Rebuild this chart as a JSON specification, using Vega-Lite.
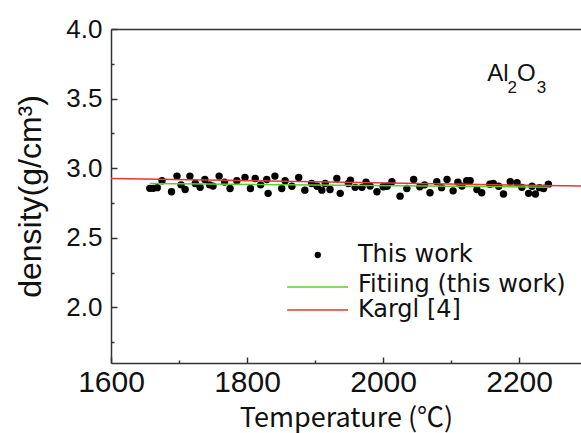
{
  "$schema": "https://vega.github.io/schema/vega-lite/v6.json",
  "width": 470,
  "height": 334,
  "autosize": {"type": "none"},
  "padding": {"left": 111, "top": 29, "right": 0, "bottom": 70},
  "background": "white",
  "config": {
    "view": {"stroke": null},
    "axis": {
      "domainColor": "#333333",
      "domainWidth": 1.5,
      "tickColor": "#333333",
      "tickWidth": 1.5,
      "labelColor": "#111111",
      "titleColor": "#111111",
      "grid": false,
      "labelFlush": false,
      "labelOverlap": false
    }
  },
  "datasets": {
    "measured": [
      {"temperature": 1657, "density": 2.855, "series": "This work"},
      {"temperature": 1662, "density": 2.855, "series": "This work"},
      {"temperature": 1668, "density": 2.86, "series": "This work"},
      {"temperature": 1675, "density": 2.909, "series": "This work"},
      {"temperature": 1689, "density": 2.83, "series": "This work"},
      {"temperature": 1697, "density": 2.943, "series": "This work"},
      {"temperature": 1703, "density": 2.88, "series": "This work"},
      {"temperature": 1709, "density": 2.847, "series": "This work"},
      {"temperature": 1716, "density": 2.943, "series": "This work"},
      {"temperature": 1724, "density": 2.89, "series": "This work"},
      {"temperature": 1731, "density": 2.862, "series": "This work"},
      {"temperature": 1738, "density": 2.919, "series": "This work"},
      {"temperature": 1745, "density": 2.88, "series": "This work"},
      {"temperature": 1750, "density": 2.871, "series": "This work"},
      {"temperature": 1759, "density": 2.943, "series": "This work"},
      {"temperature": 1767, "density": 2.9, "series": "This work"},
      {"temperature": 1775, "density": 2.854, "series": "This work"},
      {"temperature": 1785, "density": 2.909, "series": "This work"},
      {"temperature": 1797, "density": 2.933, "series": "This work"},
      {"temperature": 1805, "density": 2.854, "series": "This work"},
      {"temperature": 1812, "density": 2.926, "series": "This work"},
      {"temperature": 1820, "density": 2.88, "series": "This work"},
      {"temperature": 1829, "density": 2.919, "series": "This work"},
      {"temperature": 1831, "density": 2.819, "series": "This work"},
      {"temperature": 1841, "density": 2.943, "series": "This work"},
      {"temperature": 1851, "density": 2.854, "series": "This work"},
      {"temperature": 1856, "density": 2.909, "series": "This work"},
      {"temperature": 1866, "density": 2.87, "series": "This work"},
      {"temperature": 1876, "density": 2.933, "series": "This work"},
      {"temperature": 1885, "density": 2.842, "series": "This work"},
      {"temperature": 1895, "density": 2.89, "series": "This work"},
      {"temperature": 1903, "density": 2.87, "series": "This work"},
      {"temperature": 1910, "density": 2.842, "series": "This work"},
      {"temperature": 1915, "density": 2.89, "series": "This work"},
      {"temperature": 1922, "density": 2.847, "series": "This work"},
      {"temperature": 1932, "density": 2.926, "series": "This work"},
      {"temperature": 1937, "density": 2.819, "series": "This work"},
      {"temperature": 1949, "density": 2.89, "series": "This work"},
      {"temperature": 1952, "density": 2.914, "series": "This work"},
      {"temperature": 1959, "density": 2.862, "series": "This work"},
      {"temperature": 1969, "density": 2.862, "series": "This work"},
      {"temperature": 1975, "density": 2.9, "series": "This work"},
      {"temperature": 1981, "density": 2.871, "series": "This work"},
      {"temperature": 1991, "density": 2.83, "series": "This work"},
      {"temperature": 2000, "density": 2.866, "series": "This work"},
      {"temperature": 2006, "density": 2.87, "series": "This work"},
      {"temperature": 2013, "density": 2.902, "series": "This work"},
      {"temperature": 2025, "density": 2.799, "series": "This work"},
      {"temperature": 2035, "density": 2.854, "series": "This work"},
      {"temperature": 2045, "density": 2.919, "series": "This work"},
      {"temperature": 2054, "density": 2.866, "series": "This work"},
      {"temperature": 2061, "density": 2.88, "series": "This work"},
      {"temperature": 2069, "density": 2.823, "series": "This work"},
      {"temperature": 2079, "density": 2.902, "series": "This work"},
      {"temperature": 2086, "density": 2.86, "series": "This work"},
      {"temperature": 2094, "density": 2.919, "series": "This work"},
      {"temperature": 2103, "density": 2.837, "series": "This work"},
      {"temperature": 2110, "density": 2.9, "series": "This work"},
      {"temperature": 2116, "density": 2.871, "series": "This work"},
      {"temperature": 2123, "density": 2.909, "series": "This work"},
      {"temperature": 2128, "density": 2.909, "series": "This work"},
      {"temperature": 2138, "density": 2.847, "series": "This work"},
      {"temperature": 2145, "density": 2.823, "series": "This work"},
      {"temperature": 2157, "density": 2.885, "series": "This work"},
      {"temperature": 2162, "density": 2.89, "series": "This work"},
      {"temperature": 2170, "density": 2.87, "series": "This work"},
      {"temperature": 2177, "density": 2.814, "series": "This work"},
      {"temperature": 2187, "density": 2.902, "series": "This work"},
      {"temperature": 2197, "density": 2.895, "series": "This work"},
      {"temperature": 2204, "density": 2.862, "series": "This work"},
      {"temperature": 2214, "density": 2.819, "series": "This work"},
      {"temperature": 2219, "density": 2.87, "series": "This work"},
      {"temperature": 2224, "density": 2.814, "series": "This work"},
      {"temperature": 2230, "density": 2.86, "series": "This work"},
      {"temperature": 2236, "density": 2.854, "series": "This work"},
      {"temperature": 2243, "density": 2.885, "series": "This work"}
    ],
    "lines": [
      {"temperature": 1657, "density": 2.89, "series": "Fitiing (this work)"},
      {"temperature": 2245, "density": 2.863, "series": "Fitiing (this work)"},
      {"temperature": 1600, "density": 2.926, "series": "Kargl [4]"},
      {"temperature": 2291, "density": 2.871, "series": "Kargl [4]"}
    ],
    "formula": [
      {"temperature": 2153, "density": 3.68, "text": "Al"},
      {"temperature": 2197, "density": 3.68, "text": "O"}
    ],
    "subscripts": [
      {"temperature": 2183, "density": 3.575, "text": "2"},
      {"temperature": 2226, "density": 3.575, "text": "3"}
    ],
    "one": [{}]
  },
  "layer": [
    {
      "data": {"name": "measured"},
      "mark": {"type": "point", "filled": true, "shape": "circle", "size": 55, "opacity": 1},
      "encoding": {
        "x": {
          "field": "temperature", "type": "quantitative",
          "scale": {"domain": [1600, 2291], "nice": false, "zero": false},
          "axis": {
            "orient": "bottom",
            "values": [1600, 1800, 2000, 2200],
            "format": "d",
            "tickSize": -6,
            "labelPadding": 10,
            "labelFont": "Liberation Sans",
            "labelFontSize": 30,
            "title": "Temperature (℃)",
            "titleFont": "Noto Sans CJK JP",
            "titleFontSize": 27,
            "titleFontWeight": "normal",
            "titlePadding": 8
          }
        },
        "y": {
          "field": "density", "type": "quantitative",
          "scale": {"domain": [1.6, 4.0], "nice": false, "zero": false},
          "axis": {
            "orient": "left",
            "values": [1.75, 2.25, 2.75, 3.25, 3.75],
            "tickSize": -3,
            "labels": false,
            "domain": false,
            "title": null
          }
        },
        "color": {
          "field": "series", "type": "nominal",
          "scale": {
            "domain": ["This work", "Fitiing (this work)", "Kargl [4]"],
            "range": ["#000000", "#5ccd2e", "#e3382f"]
          },
          "legend": null
        }
      }
    },
    {
      "data": {"name": "lines"},
      "mark": {"type": "line", "strokeWidth": 1.5, "clip": true},
      "encoding": {
        "x": {
          "field": "temperature", "type": "quantitative",
          "axis": {
            "orient": "top", "ticks": false, "labels": false, "title": null, "domain": true
          }
        },
        "y": {
          "field": "density", "type": "quantitative",
          "axis": {
            "orient": "left",
            "values": [2.0, 2.5, 3.0, 3.5, 4.0],
            "format": ".1f",
            "tickSize": -6,
            "labelPadding": 15,
            "labelFont": "Liberation Sans",
            "labelFontSize": 26,
            "title": "density(g/cm³)",
            "titleFont": "Liberation Sans",
            "titleFontSize": 32,
            "titleFontWeight": "normal",
            "titlePadding": 18
          }
        },
        "color": {"field": "series", "type": "nominal", "legend": null},
        "detail": {"field": "series"}
      }
    },
    {
      "data": {"name": "formula"},
      "mark": {"type": "text", "align": "left", "baseline": "middle", "font": "Liberation Sans", "fontSize": 24, "color": "#111111"},
      "encoding": {
        "x": {
          "field": "temperature", "type": "quantitative",
          "axis": {
            "orient": "bottom",
            "values": [1700, 1900, 2100],
            "tickSize": -3,
            "labels": false,
            "domain": false,
            "title": null
          }
        },
        "y": {"field": "density", "type": "quantitative", "axis": null},
        "text": {"field": "text"}
      }
    },
    {
      "data": {"name": "subscripts"},
      "mark": {"type": "text", "align": "left", "baseline": "middle", "font": "Liberation Sans", "fontSize": 17, "color": "#111111"},
      "encoding": {
        "x": {"field": "temperature", "type": "quantitative", "axis": null},
        "y": {"field": "density", "type": "quantitative", "axis": null},
        "text": {"field": "text"}
      }
    },
    {
      "data": {"name": "one"},
      "mark": {"type": "point", "filled": true, "shape": "circle", "size": 40, "color": "#000000", "opacity": 1},
      "encoding": {
        "x": {"datum": 1904, "type": "quantitative", "axis": null},
        "y": {"datum": 2.376, "type": "quantitative", "axis": null}
      }
    },
    {
      "data": {"name": "one"},
      "mark": {"type": "rule", "strokeWidth": 1.5, "color": "#5ccd2e"},
      "encoding": {
        "x": {"datum": 1859, "type": "quantitative", "axis": null},
        "x2": {"datum": 1948.5},
        "y": {"datum": 2.146, "type": "quantitative", "axis": null}
      }
    },
    {
      "data": {"name": "one"},
      "mark": {"type": "rule", "strokeWidth": 1.5, "color": "#e3382f"},
      "encoding": {
        "x": {"datum": 1859, "type": "quantitative", "axis": null},
        "x2": {"datum": 1948.5},
        "y": {"datum": 1.981, "type": "quantitative", "axis": null}
      }
    },
    {
      "data": {"name": "one"},
      "mark": {"type": "text", "align": "left", "baseline": "middle", "font": "DejaVu Sans", "fontSize": 24, "color": "#111111"},
      "encoding": {
        "x": {"datum": 1963, "type": "quantitative", "axis": null},
        "y": {"datum": 2.376, "type": "quantitative", "axis": null},
        "text": {"value": "This work"}
      }
    },
    {
      "data": {"name": "one"},
      "mark": {"type": "text", "align": "left", "baseline": "middle", "font": "DejaVu Sans", "fontSize": 24, "color": "#111111"},
      "encoding": {
        "x": {"datum": 1963, "type": "quantitative", "axis": null},
        "y": {"datum": 2.16, "type": "quantitative", "axis": null},
        "text": {"value": "Fitiing (this work)"}
      }
    },
    {
      "data": {"name": "one"},
      "mark": {"type": "text", "align": "left", "baseline": "middle", "font": "DejaVu Sans", "fontSize": 24, "color": "#111111"},
      "encoding": {
        "x": {"datum": 1963, "type": "quantitative", "axis": null},
        "y": {"datum": 1.981, "type": "quantitative", "axis": null},
        "text": {"value": "Kargl [4]"}
      }
    }
  ],
  "resolve": {"axis": {"x": "independent", "y": "independent"}}
}
